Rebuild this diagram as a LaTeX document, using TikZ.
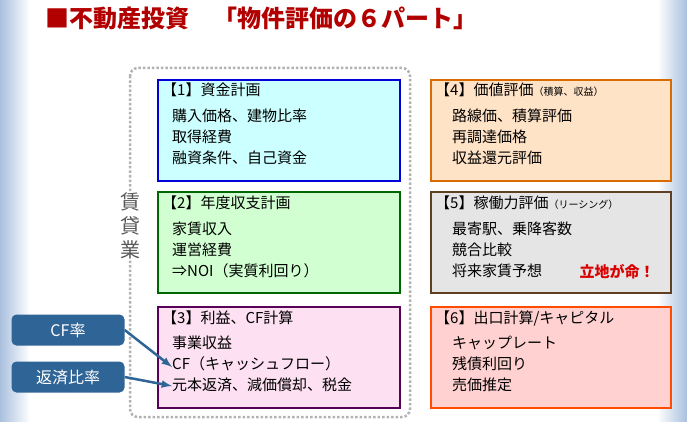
\documentclass[tikz,border=0pt]{standalone}
\usepackage{fontspec}
\setmainfont{Noto Sans CJK JP}
\usetikzlibrary{positioning}
\definecolor{edgeblue}{HTML}{A9C0DE}
\definecolor{tagblue}{HTML}{2F6496}
\definecolor{paleaqua}{HTML}{CCFFFF}
\begin{document}
\begin{tikzpicture}
        [
            x=1pt, y=-1pt,
            part/.style    = {shape=rectangle, draw, line width=2pt, minimum width=242pt, minimum height=101pt, anchor=north west, align=left, inner sep=0pt},
            head/.style    = {anchor=north west, font=\fontsize{15}{17}\selectfont, inner sep=0pt},
            body/.style    = {anchor=north west, align=left, font=\fontsize{15}{21}\selectfont, inner sep=0pt},
            tag/.style     = {shape=rectangle, rounded corners=5pt, fill=tagblue, text=white, minimum width=113pt, minimum height=31pt, font=\fontsize{16}{18}\selectfont},
            every node/.style = {font=\fontsize{15}{17}\selectfont},
            ]
            \useasboundingbox (0,0) rectangle (687,422);
            % background
            \shade[left color=edgeblue, right color=white] (0,0) rectangle (30,422);
            \shade[left color=white, right color=edgeblue] (657,0) rectangle (687,422);
            % title
            \node (title) [anchor=west, text=red!70!black, font=\fontsize{24}{28}\selectfont\bfseries] at (42,18) {■不動産投資\quad 「物件評価の６パート」};
            % rental business frame
            \draw [gray!60, line width=2.5pt, dotted, rounded corners=8pt] (130,68) rectangle (410,417);
            \node (rent) [align=center, font=\fontsize{20}{24}\selectfont, fill=white, inner sep=1pt, text=gray!70!black] at (130,226) {賃\\貸\\業};
            % parts
            \node (p1) [part, draw=blue!85!black, fill=paleaqua] at (157,79) {};
            \node (p2) [part, draw=green!40!black, fill=green!18] at (157,191) {};
            \node (p3) [part, draw=violet!70!black, fill=magenta!12] at (157,306) {};
            \node (p4) [part, draw=orange!85!black, fill=orange!22, minimum width=240pt] at (430,79) {};
            \node (p5) [part, draw=brown!50!black, fill=gray!20, minimum width=240pt] at (430,191) {};
            \node (p6) [part, draw=orange!60!red, fill=red!18, minimum width=240pt] at (430,306) {};
            \node (h1) [head] at (162,83) {【1】資金計画};
            \node (b1) [body] at (172,109) {購入価格、建物比率\\取得経費\\融資条件、自己資金};
            \node (h2) [head] at (162,196) {【2】年度収支計画};
            \node (b2) [body] at (172,222) {家賃収入\\運営経費\\⇒NOI（実質利回り）};
            \node (h3) [head] at (162,311) {【3】利益、CF計算};
            \node (b3) [body] at (172,336) {事業収益\\CF（キャッシュフロー）\\元本返済、減価償却、税金};
            \node (h4) [head] at (435,83) {【4】価値評価{\fontsize{10}{11}\selectfont（積算、収益）}};
            \node (b4) [body] at (452,109) {路線価、積算評価\\再調達価格\\収益還元評価};
            \node (h5) [head] at (435,196) {【5】稼働力評価{\fontsize{10}{11}\selectfont（リーシング）}};
            \node (b5) [body] at (452,222) {最寄駅、乗降客数\\競合比較\\将来家賃予想};
            \node (key) [text=red!85!black, font=\fontsize{15}{17}\selectfont\bfseries] at (617,272) {立地が命！};
            \node (h6) [head] at (435,311) {【6】出口計算/キャピタル};
            \node (b6) [body] at (452,336) {キャップレート\\残債利回り\\売価推定};
            % indicators
            \node (cf) [tag] at (68,330) {CF率};
            \node (rep) [tag] at (68,377) {返済比率};
            \coordinate (cfend) at (172,367);
            \coordinate (repend) at (172,386);
            \draw [-latex, tagblue, line width=2.5pt] (cf.east) -- (cfend);
            \draw [-latex, tagblue, line width=2.5pt] (rep.east) -- (repend);
        \end{tikzpicture}
\end{document}
